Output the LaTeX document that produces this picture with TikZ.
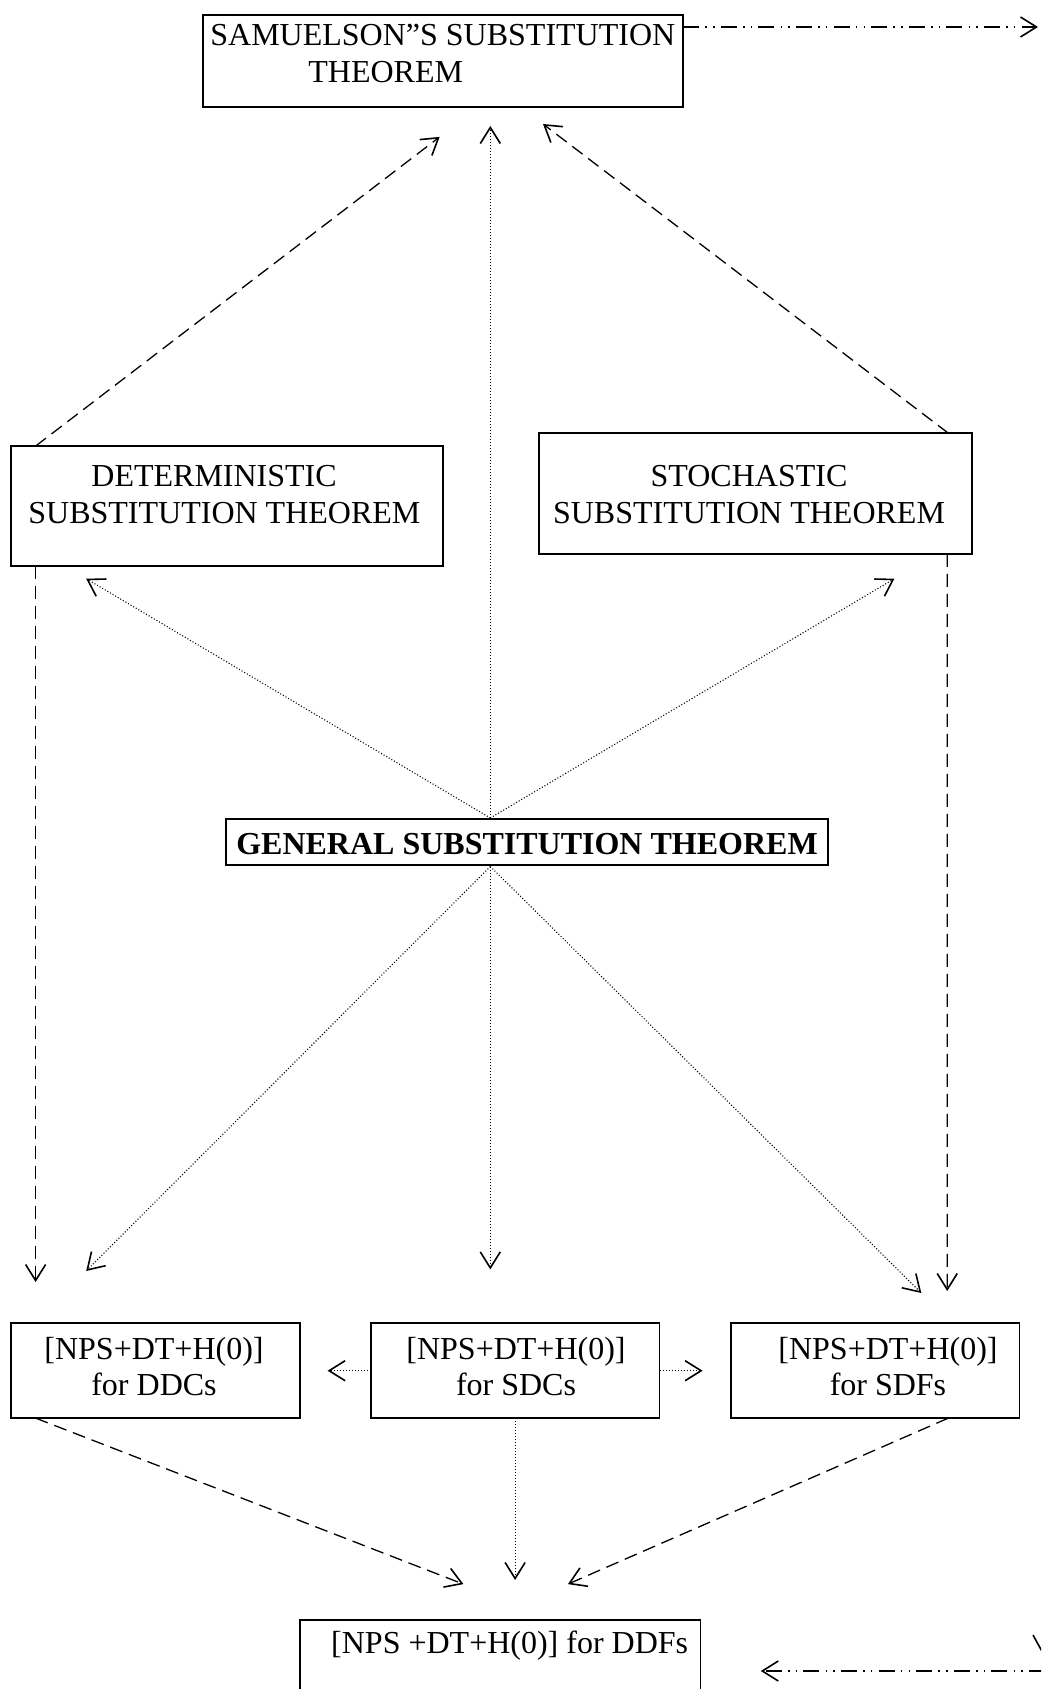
\documentclass[tikz,border=0pt]{standalone}
\usepackage{fontspec}
\setmainfont{Liberation Serif}
\usetikzlibrary{arrows.meta,calc}
\begin{document}
\begin{tikzpicture}[x=0.5pt,y=-0.5pt,
  box/.style={draw,line width=0.9pt,rectangle,inner sep=0pt,outer sep=0pt},
  txt/.style={inner sep=0pt,font=\fontsize{16}{18.3}\selectfont,align=center},
  arr/.style={-{Straight Barb[length=8pt,width=10pt,line width=0.8pt]}},
  dashline/.style={arr,line width=0.65pt,dash pattern=on 6.5pt off 3.5pt},
  dotline/.style={arr,line width=0.55pt,dash pattern=on 0.5pt off 1pt},
  ddotline/.style={arr,line width=0.7pt,dash pattern=on 8pt off 3.1pt on 0.75pt off 3.1pt on 0.75pt off 3.1pt}]
\useasboundingbox (0,0) rectangle (1041,1689);
\clip (0,0) rectangle (1041,1689);

% boxes
\node[box,minimum width=240.3pt,minimum height=45.8pt] (sam) at (442.9,60.9) {};
\node[box,minimum width=216.05pt,minimum height=59.8pt] (det) at (226.85,505.9) {};
\node[box,minimum width=216.6pt,minimum height=60.35pt] (sto) at (755.4,493.55) {};
\node[box,minimum width=300.65pt,minimum height=23.15pt] (gen) at (526.95,842.15) {};
\node[box,minimum width=144.4pt,minimum height=47.4pt] (ddc) at (155.2,1370.7) {};
\node[box,minimum width=144.4pt,minimum height=47.4pt] (sdc) at (515.1,1370.7) {};
\node[box,minimum width=144.4pt,minimum height=47.4pt] (sdf) at (875,1370.7) {};
\node[box,minimum width=200.4pt,minimum height=50.2pt] (ddf) at (500,1669.8) {};

% texts
\node[txt,anchor=west,align=left] (samt) at (210,53.3) {SAMUELSON”S SUBSTITUTION\\\hspace*{49pt}THEOREM};
\node[txt,anchor=west,align=left] (dett) at (28,494.7) {\hspace*{31.5pt}DETERMINISTIC\\SUBSTITUTION THEOREM};
\node[txt] (stot) at (749,494.7) {STOCHASTIC\\SUBSTITUTION THEOREM};
\node[txt,font=\fontsize{16}{18.3}\selectfont\bfseries] (gent) at (527,843.8) {GENERAL SUBSTITUTION THEOREM};
\node[txt] (ddct) at (154,1366.4) {[NPS+DT+H(0)]\\for DDCs};
\node[txt] (sdct) at (516,1366.4) {[NPS+DT+H(0)]\\for SDCs};
\node[txt] (sdft) at (888,1366.4) {[NPS+DT+H(0)]\\for SDFs};
\node[txt] (ddft) at (509.7,1645.5) {[NPS +DT+H(0)] for DDFs};

% coordinates
\coordinate (samL) at (439.7,136.9);
\coordinate (samM) at (490.3,126);
\coordinate (samR) at (543,124);
\coordinate (gt) at (490.3,818);
\coordinate (gb) at (490.3,866.5);
\coordinate (detT) at (86.2,578.7);
\coordinate (stoT) at (894.4,578.7);
\coordinate (ddcT) at (86.2,1271);
\coordinate (sdcT) at (490.3,1269.4);
\coordinate (sdfT) at (921.3,1293);
\coordinate (ddcV) at (35.6,1282);
\coordinate (sdfV) at (947.2,1291);
\coordinate (ddcR) at (327.6,1370.7);
\coordinate (sdfL) at (702.6,1370.7);
\coordinate (ddfL) at (463.4,1584.1);
\coordinate (ddfM) at (515.1,1580);
\coordinate (ddfR) at (567.9,1584.1);
\coordinate (topT) at (1038,27);
\coordinate (botS) at (1045,1671);
\coordinate (botT) at (760.8,1671);

% connectors
\draw[dashline] ($(det.north west)+(24.8,0)$) -- (samL);
\draw[dashline] ($(sto.north east)+(-23.7,0)$) -- (samR);
\draw[dotline] (gt) -- (samM);
\draw[dotline] (gt) -- (detT);
\draw[dotline] (gt) -- (stoT);
\draw[dotline] (gb) -- (ddcT);
\draw[dotline] (gb) -- (sdcT);
\draw[dotline] (gb) -- (sdfT);
\draw[dashline] ($(det.south west)+(24.8,0)$) -- (ddcV);
\draw[dashline] ($(sto.south east)+(-24.8,0)$) -- (sdfV);
\draw[dotline] (sdc.west) -- (ddcR);
\draw[dotline] (sdc.east) -- (sdfL);
\draw[dashline] ($(ddc.south west)+(24.8,0)$) -- (ddfL);
\draw[dotline] (sdc.south) -- (ddfM);
\draw[dashline] ($(sdf.south east)+(-71.1,0)$) -- (ddfR);
\draw[ddotline] (sam.east |- topT) -- (topT);
\draw[ddotline] (botS) -- (botT);
\draw[line width=0.8pt] (1033,1635) -- (1044,1655);
\end{tikzpicture}
\end{document}
